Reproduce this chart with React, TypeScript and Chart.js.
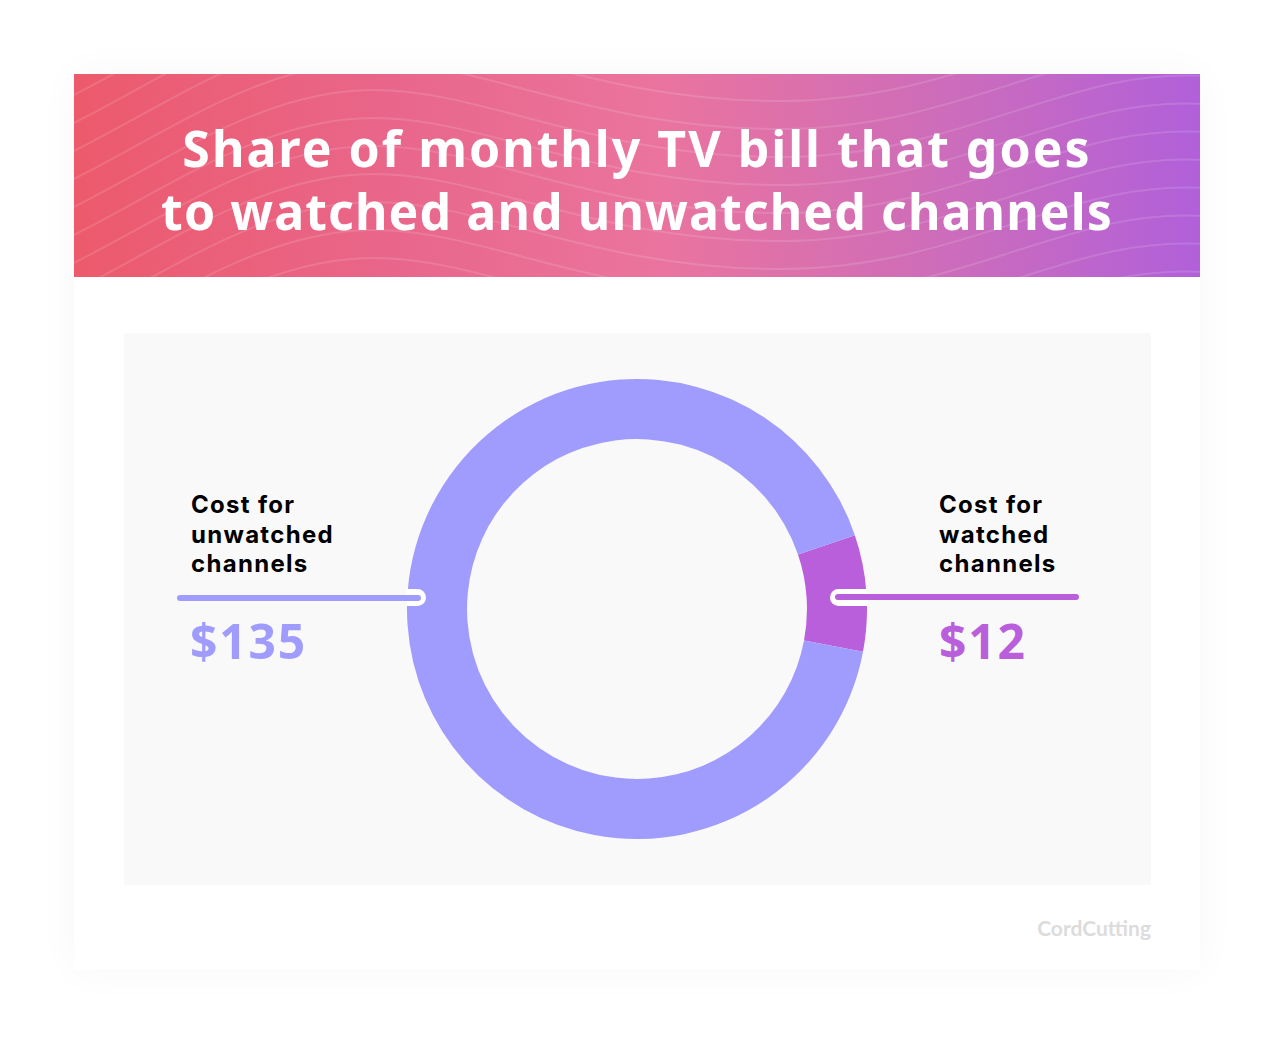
import React, { useEffect, useRef } from "react";
import { Chart, registerables } from "chart.js";

Chart.register(...registerables);

const categories = ["Cost for watched channels", "Cost for unwatched channels"];
const costs = [12, 135];
const sliceColors = ["#b95fdc", "#9f9cfd"];

const titleLines = ["Share of monthly TV bill that goes", "to watched and unwatched channels"];
const titleSpacing = [2.0, 1.1];

// wave lines on the header, each one shifted down from the one before
const waveOffsets = [-112, -84, -56, -28, 0, 28, 56, 84, 112, 140, 168, 196, 224, 252, 280];

const wavePath = (dy: number) =>
    `M -10 ${110 + dy} C 100 ${55 + dy}, 190 ${-12 + dy}, 300 ${-12 + dy} S 520 ${55 + dy}, 706 ${55 + dy} S 1000 ${-40 + dy}, 1140 ${-25 + dy}`;

const text: React.CSSProperties = { position: "absolute", margin: 0, whiteSpace: "pre" };

const label: React.CSSProperties = {
    ...text,
    fontFamily: "Inter",
    fontWeight: 700,
    fontSize: 24,
    lineHeight: "29.5px",
    letterSpacing: 1.3,
    color: "#000",
};

const amount: React.CSSProperties = {
    ...text,
    fontFamily: "'Open Sans'",
    fontWeight: 700,
    fontSize: 48,
    lineHeight: "56px",
    letterSpacing: 1.8,
};

const App = () => {
    const chartRef = useRef<HTMLCanvasElement | null>(null);

    useEffect(() => {
        if (!chartRef.current) return;
        const chart = new Chart(chartRef.current, {
            type: "doughnut",
            data: {
                labels: categories,
                datasets: [
                    {
                        data: costs,
                        backgroundColor: sliceColors,
                        borderWidth: 0,
                    },
                ],
            },
            options: {
                responsive: false,
                animation: false,
                rotation: 71.3,
                cutout: "73.9%",
                layout: { padding: 0 },
                plugins: {
                    legend: { display: false },
                    tooltip: { enabled: false },
                },
            },
        });
        return () => {
            chart.destroy();
        };
    }, []);

    return (
        <div style={{ position: "absolute", left: 0, top: 0, width: 1275, height: 1045, background: "#fff", overflow: "hidden" }}>
            {/* card */}
            <div
                style={{
                    position: "absolute",
                    left: 74,
                    top: 74,
                    width: 1126,
                    height: 896,
                    background: "#fff",
                    boxShadow: "0 0 40px rgba(0,0,0,0.035)",
                }}
            />
            {/* header */}
            <div
                style={{
                    position: "absolute",
                    left: 74,
                    top: 74,
                    width: 1126,
                    height: 203,
                    overflow: "hidden",
                    background: "linear-gradient(90deg, #ec5a6c 0%, #e9668a 28%, #ea749e 52%, #cc6cbb 78%, #b160da 100%)",
                }}
            >
                <svg width={1126} height={203} style={{ position: "absolute", left: 0, top: 0 }}>
                    {waveOffsets.map((dy) => (
                        <path key={dy} d={wavePath(dy)} fill="none" stroke="rgba(255,255,255,0.13)" strokeWidth={2} />
                    ))}
                </svg>
            </div>
            {titleLines.map((line, i) => (
                <p
                    key={line}
                    style={{
                        ...text,
                        left: 74,
                        width: 1126,
                        top: 113 + i * 63,
                        textAlign: "center",
                        fontFamily: "'Noto Sans'",
                        fontWeight: 700,
                        fontSize: 50,
                        lineHeight: "70px",
                        letterSpacing: titleSpacing[i],
                        color: "#fff",
                    }}
                >
                    {line}
                </p>
            ))}

            {/* chart panel */}
            <div style={{ position: "absolute", left: 124, top: 333, width: 1027, height: 552, background: "#f9f9f9" }} />
            <canvas ref={chartRef} width={460} height={460} style={{ position: "absolute", left: 407, top: 379, width: 460, height: 460 }} />

            {/* left callout */}
            <p style={{ ...label, left: 191, top: 490 }}>{"Cost for\nunwatched\nchannels"}</p>
            <div style={{ position: "absolute", left: 400, top: 589, width: 26, height: 17, borderRadius: 8.5, background: "#fff", clipPath: "inset(0 0 0 7px)" }} />
            <div style={{ position: "absolute", left: 177, top: 595, width: 244, height: 6, borderRadius: 3, background: "#9f9cfd" }} />
            <p style={{ ...amount, left: 190, top: 613, color: "#9f9cfd" }}>$135</p>

            {/* right callout */}
            <p style={{ ...label, left: 939, top: 490 }}>{"Cost for\nwatched\nchannels"}</p>
            <div style={{ position: "absolute", left: 830, top: 589, width: 50, height: 17, borderRadius: 8.5, background: "#fff", clipPath: "inset(0 12px 0 0)" }} />
            <div style={{ position: "absolute", left: 835, top: 594, width: 244, height: 6, borderRadius: 3, background: "#b95fdc" }} />
            <p style={{ ...amount, left: 939, top: 613, color: "#b95fdc" }}>$12</p>

            {/* source mark */}
            <p style={{ ...text, right: 124, top: 915, fontFamily: "Lato", fontWeight: 700, fontSize: 21, lineHeight: "26px", color: "#dcdcdc" }}>
                CordCutting
            </p>
        </div>
    );
};

export default App;
